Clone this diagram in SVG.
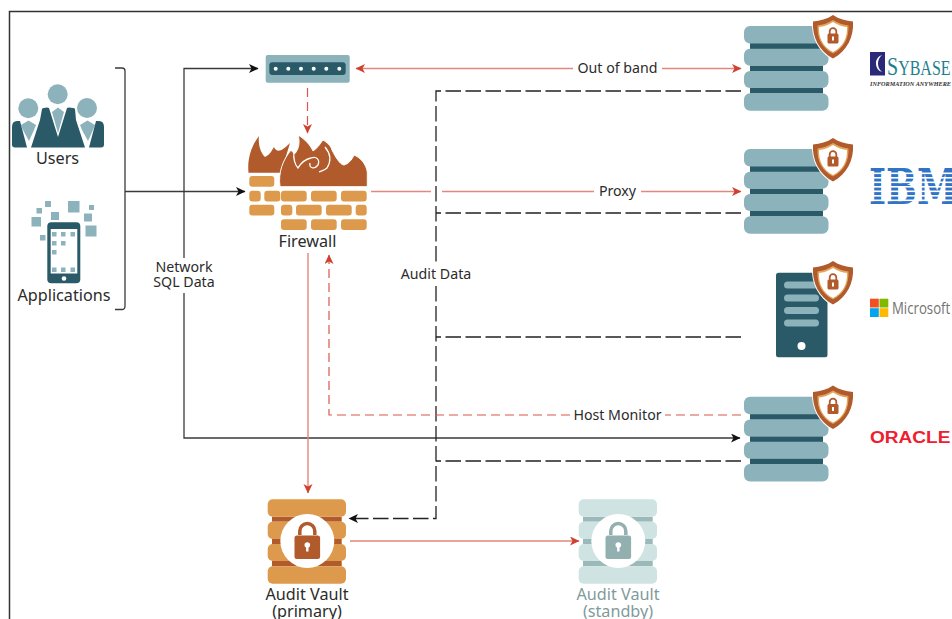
<svg xmlns="http://www.w3.org/2000/svg" width="952" height="619" viewBox="0 0 952 619">
<style>
text{font-family:"Noto Sans","Open Sans","DejaVu Sans",sans-serif;font-size:14.2px;fill:#2b2b2b;text-anchor:middle}
text.n{font-size:16.2px}
.k{fill:none;stroke:#3a3a3a;stroke-width:1.3}
.kd{fill:none;stroke:#222;stroke-width:1.3;stroke-dasharray:15.500 4.500}
.r{fill:none;stroke:#e2877d;stroke-width:1.4}
.rd{fill:none;stroke:#d9574a;stroke-width:1.2;stroke-dasharray:9 5}
.teal{fill:#8cb2bb}.dark{fill:#2a5a67}.brick{fill:#dd9a4d}.fl{fill:#b15a2b}
</style>
<defs>
<marker id="ak" markerUnits="userSpaceOnUse" markerWidth="11" markerHeight="10" refX="9" refY="4.500" orient="auto"><path d="M0 0L9.500 4.500L0 9L2.500 4.500Z" fill="#111"/></marker>
<marker id="ar" markerUnits="userSpaceOnUse" markerWidth="11" markerHeight="10" refX="9" refY="4.500" orient="auto-start-reverse"><path d="M0 0L9.500 4.500L0 9L2.500 4.500Z" fill="#d0402f"/></marker>
<g id="shield">
<path d="M0 -1C6 3 13 5 21 5.500C22 22 15 37 0 45C-15 37 -22 22 -21 5.500C-13 5 -6 3 0 -1Z" fill="#fff"/>
<path d="M0 0C6 4 13 6 20 6.500C21 22 14 36 0 43.500C-14 36 -21 22 -20 6.500C-13 6 -6 4 0 0Z" class="fl"/>
<path d="M0 5C5 8 10 10 15.500 10.500C16 23 11 33 0 38.500C-11 33 -16 23 -15.500 10.500C-10 10 -5 8 0 5Z" fill="#e3a55c"/>
<path d="M0 7C5 10 9 11.500 14 12C14.500 23 10 32 0 37C-10 32 -14.500 23 -14 12C-9 11.500 -5 10 0 7Z" fill="#fff"/>
<path d="M-3.300 19V16.500A3.300 3.300 0 0 1 3.300 16.500V19" fill="none" stroke="#b15a2b" stroke-width="1.800"/>
<rect x="-5.500" y="18.500" width="11" height="10" rx="1.500" class="fl"/>
<rect x="-1" y="21.500" width="2" height="4" fill="#fff"/>
</g>
<g id="stack">
<rect x="6" y="17" width="73" height="6" class="dark"/>
<rect x="6" y="39.500" width="73" height="6" class="dark"/>
<rect x="6" y="61.500" width="73" height="6" class="dark"/>
<rect x="0" y="0" width="84.500" height="17.500" rx="6" class="teal"/>
<rect x="0" y="22.700" width="84.500" height="17" rx="6" class="teal"/>
<rect x="0" y="45" width="84.500" height="17" rx="6" class="teal"/>
<rect x="0" y="67.300" width="84.500" height="17.500" rx="6" class="teal"/>
</g>
<g id="lock">
<path d="M-7.500 -6V-10A7.500 7.500 0 0 1 7.500 -10V-6" fill="none" stroke-width="3.500"/>
<rect x="-12.800" y="-5.500" width="25.600" height="23.500" rx="2.500" stroke="none"/>
<circle cx="0" cy="4" r="2.800" fill="#fff" stroke="none"/>
<rect x="-1.200" y="4" width="2.400" height="6.500" fill="#fff" stroke="none"/>
</g>
</defs>
<rect width="952" height="619" fill="#fff"/>
<path d="M9.500 619V11.500H952" fill="none" stroke="#333" stroke-width="1.500"/>

<g id="connectors">
<path class="k" d="M115 68H122Q125 68 125 71V306Q125 309.500 122 309.500H115"/>
<path class="k" d="M125 191.500H245" marker-end="url(#ak)"/>
<path class="k" d="M184 258V68.500H258" marker-end="url(#ak)"/>
<path class="k" d="M184 293V438H740" marker-end="url(#ak)"/>
<path class="kd" d="M741 91H436V264"/>
<path class="kd" d="M436 286V518.500H349" marker-end="url(#ak)"/>
<path class="kd" d="M741 213H436"/>
<path class="kd" d="M741 337H436"/>
<path class="kd" d="M741 461H436"/>
<path class="r" d="M573 68.500H356" marker-end="url(#ar)"/>
<path class="r" d="M662 68.500H741" marker-end="url(#ar)"/>
<path class="r" d="M371 191.500H431M442 191.500H594"/>
<path class="r" d="M641 191.500H741" marker-end="url(#ar)"/>
<path class="rd" d="M307.500 88V133" marker-end="url(#ar)"/>
<path class="r" d="M308 253V493" marker-end="url(#ar)"/>
<path class="rd" d="M741 415H665M570 415H329V255" marker-end="url(#ar)"/>
<path class="r" d="M350 541H579" marker-end="url(#ar)"/>
</g>

<g id="users">
<circle cx="57.700" cy="94.300" r="10" class="teal"/>
<circle cx="28.300" cy="108.300" r="10" class="teal"/>
<circle cx="87" cy="108" r="10" class="teal"/>
<path class="teal" d="M21 125L28.500 120.500L36 125L34 130L29 141L23 130Z"/>
<path class="teal" d="M80 125L87.500 120.500L95 125L93 130L88 141L82 130Z"/>
<path class="dark" d="M12 127Q12 121 17 121H20L27 147.500H15Q12 147.500 12 144.500Z"/>
<path class="dark" d="M104 127Q104 121 99 121H96L89 147.500H101Q104 147.500 104 144.500Z"/>
<path class="dark" d="M31 147.500L40 120L42 109Q43 107.500 47 107.500L49 108L58 137L67 108L69 107.500Q74 107.500 75 109L76 120L85 147.500Z"/>
<path class="teal" d="M52 112L58 107.500L64 112L58 133Z"/>
<text class="n" x="57.500" y="164">Users</text>
</g>

<g id="applications">
<rect x="47.300" y="222.300" width="33" height="61" rx="4" class="dark"/>
<rect x="50.700" y="229" width="26.600" height="44.500" fill="#fff"/>
<g class="teal">
<rect x="52" y="232" width="4.500" height="4.500"/><rect x="61" y="232" width="4.500" height="4.500"/><rect x="70.500" y="232" width="4.500" height="4.500"/>
<rect x="52" y="241" width="4.500" height="4.500"/><rect x="61" y="241" width="4.500" height="4.500"/>
<rect x="52" y="250" width="4.500" height="4.500"/>
<rect x="52" y="267.500" width="4.500" height="4.500"/><rect x="61" y="267.500" width="4.500" height="4.500"/><rect x="70.500" y="267.500" width="4.500" height="4.500"/>
<rect x="45" y="201" width="6" height="6"/><rect x="36.500" y="208" width="5.500" height="5.500"/><rect x="51" y="212" width="8" height="8"/><rect x="68" y="201" width="11.500" height="11.500"/><rect x="89" y="205" width="5" height="5"/><rect x="84" y="213.500" width="8" height="8"/><rect x="31.500" y="217" width="9.500" height="9.500"/><rect x="85.500" y="225.500" width="11" height="11"/><rect x="40" y="235" width="5.500" height="5.500"/>
</g>
<circle cx="64" cy="278.500" r="2.300" fill="#fff"/>
<text class="n" x="64" y="301">Applications</text>
</g>

<g id="switch">
<rect x="265.700" y="55" width="84" height="27.700" rx="2" class="teal"/>
<rect x="269.300" y="62.300" width="76.400" height="12.700" rx="3" class="dark"/>
<g fill="#fff"><circle cx="275.700" cy="68.700" r="2"/><circle cx="288.300" cy="68.700" r="2"/><circle cx="301" cy="68.700" r="2"/><circle cx="313.700" cy="68.700" r="2"/><circle cx="326.300" cy="68.700" r="2"/><circle cx="339.300" cy="68.700" r="2"/></g>
</g>

<g id="firewall">
<path class="fl" d="M248.500 172.700C247 158 252 145 259 136C258 143 260 152 265 157C270 155 272 150 274 147C276 152 280 151 283 149C286 147 288 145 290 143L281 172.700Z"/>
<path class="fl" stroke="#fff" stroke-width="1" d="M280 186.700C278 172 283 160 291 150C293 153 295 155 296 152C299 148 300 141 298 135C305 139 311 146 313 151C316 149 320 145 322.700 140C327 142 331 146 332 150C335 156 340 165 344 165C348 164 352 160 354 155C361 158 366 164 367.300 172V186.700Z"/>
<path d="M294 152C293 158 295 165 298 168C301 163 306 159 311 158C317 156 320 160 318 165C314 170 309 168 310 163M325 147C330 153 332 160 327 168C325 170 321 171 319 172" fill="none" stroke="#fff" stroke-width="1.300"/>
<g class="brick">
<rect x="249.300" y="176" width="25" height="10.700" rx="3"/>
<rect x="249.300" y="190.700" width="11.400" height="10.700" rx="3"/><rect x="264.300" y="190.700" width="16" height="10.700" rx="3"/><rect x="281" y="190.700" width="25.700" height="10.700" rx="3"/><rect x="311" y="190.700" width="25.700" height="10.700" rx="3"/><rect x="341" y="190.700" width="25.700" height="10.700" rx="3"/>
<rect x="249.300" y="204.700" width="25" height="10.700" rx="3"/><rect x="281" y="204.700" width="11.300" height="10.700" rx="3"/><rect x="296" y="204.700" width="25.700" height="10.700" rx="3"/><rect x="326" y="204.700" width="25.700" height="10.700" rx="3"/><rect x="355.700" y="204.700" width="11" height="10.700" rx="3"/>
<rect x="281" y="219.300" width="25.700" height="10.700" rx="3"/><rect x="311" y="219.300" width="25.700" height="10.700" rx="3"/><rect x="341" y="219.300" width="25.700" height="10.700" rx="3"/>
</g>
<text class="n" x="307.500" y="247">Firewall</text>
</g>

<g id="db-sybase">
<use href="#stack" x="744" y="26"/>
<use href="#shield" x="833" y="15"/>
<rect x="870" y="52" width="15" height="23.500" fill="#2b2a78"/>
<path d="M882 55A9 9 0 0 0 882 72A11 11 0 0 1 882 55Z" fill="#fff"/>
<text transform="translate(887 75) scale(.8 1)" style="font-family:'Liberation Serif',serif;font-size:25px;fill:#1f7f8e;text-anchor:start">S<tspan font-size="20">YBASE</tspan></text>
<text x="870" y="86" textLength="81" lengthAdjust="spacingAndGlyphs" style="font-family:'Liberation Serif',serif;font-size:6.500px;font-weight:bold;font-style:italic;fill:#333;text-anchor:start">INFORMATION ANYWHERE</text>
</g>

<g id="db-ibm">
<use href="#stack" x="744" y="149"/>
<use href="#shield" x="833" y="138"/>
<text transform="translate(869 204) scale(.76 1)" style="font-family:'DejaVu Serif',serif;font-size:48px;font-weight:bold;fill:#2f74c6;text-anchor:start">IBM</text>
<g fill="#fff"><rect x="868" y="172.500" width="84" height="1.600"/><rect x="868" y="177" width="84" height="1.600"/><rect x="868" y="181.500" width="84" height="1.600"/><rect x="868" y="186" width="84" height="1.600"/><rect x="868" y="190.500" width="84" height="1.600"/><rect x="868" y="195" width="84" height="1.600"/><rect x="868" y="199.500" width="84" height="1.600"/></g>
</g>

<g id="db-microsoft">
<rect x="776" y="272.700" width="51.500" height="84.500" rx="2.500" class="dark"/>
<g class="teal"><rect x="784" y="281.500" width="35" height="7" rx="3.500"/><rect x="784" y="294.500" width="35" height="7" rx="3.500"/><rect x="784" y="307" width="35" height="7" rx="3.500"/><rect x="784" y="319.500" width="35" height="7" rx="3.500"/></g>
<circle cx="801.500" cy="346" r="4" fill="#fff"/>
<use href="#shield" x="833" y="261"/>
<rect x="870" y="298.700" width="8.800" height="8.800" fill="#f25022"/><rect x="879.500" y="298.700" width="8.800" height="8.800" fill="#7fba00"/><rect x="870" y="308.200" width="8.800" height="8.800" fill="#00a4ef"/><rect x="879.500" y="308.200" width="8.800" height="8.800" fill="#ffb900"/>
<text transform="translate(892 313.500) scale(.8 1)" style="font-family:'Open Sans',sans-serif;font-size:16.500px;fill:#737373;text-anchor:start">Microsoft</text>
</g>

<g id="db-oracle">
<use href="#stack" x="744" y="396.700"/>
<use href="#shield" x="833" y="385.500"/>
<text transform="translate(870 443) scale(1.190 1)" style="font-family:'Liberation Sans',sans-serif;font-size:16px;font-weight:bold;fill:#ee2030;text-anchor:start">ORACLE</text>
</g>

<g id="vault-primary">
<g fill="#b15a2b"><rect x="272" y="516.700" width="69.700" height="5"/><rect x="272" y="561" width="69.700" height="5.300"/></g>
<g class="brick"><rect x="267.700" y="499.300" width="78.300" height="17.400" rx="5"/><rect x="267.700" y="521.700" width="78.300" height="17.300" rx="5"/><rect x="267.700" y="544" width="78.300" height="17" rx="5"/><rect x="267.700" y="566.300" width="78.300" height="17.400" rx="5"/></g>
<rect x="272" y="539" width="69.700" height="5" fill="#b15a2b"/>
<circle cx="307.300" cy="541" r="27" fill="#fff"/>
<use href="#lock" x="307.300" y="541" fill="#b15a2b" stroke="#b15a2b"/>
<text class="n" x="307" y="600">Audit Vault<tspan x="307" dy="16.500">(primary)</tspan></text>
</g>

<g id="vault-standby">
<g fill="#9bb9b9"><rect x="583" y="516.700" width="69.700" height="5"/><rect x="583" y="561" width="69.700" height="5.300"/></g>
<g fill="#cfe3e2"><rect x="578.700" y="499.300" width="78.300" height="17.400" rx="5"/><rect x="578.700" y="521.700" width="78.300" height="17.300" rx="5"/><rect x="578.700" y="544" width="78.300" height="17" rx="5"/><rect x="578.700" y="566.300" width="78.300" height="17.400" rx="5"/></g>
<rect x="583" y="539" width="69.700" height="5" fill="#9bb9b9"/>
<circle cx="618.300" cy="541" r="27" fill="#fff"/>
<use href="#lock" x="618.300" y="541" fill="#93b0b0" stroke="#93b0b0"/>
<text class="n" x="618" y="600" style="fill:#7f9a9c">Audit Vault<tspan x="618" dy="16.500">(standby)</tspan></text>
</g>

<g id="labels">
<text x="184" y="272">Network<tspan x="184" dy="15">SQL Data</tspan></text>
<text x="617.500" y="73">Out of band</text>
<text x="617.500" y="196">Proxy</text>
<text x="436" y="279">Audit Data</text>
<text x="617.500" y="420">Host Monitor</text>
</g>
</svg>
